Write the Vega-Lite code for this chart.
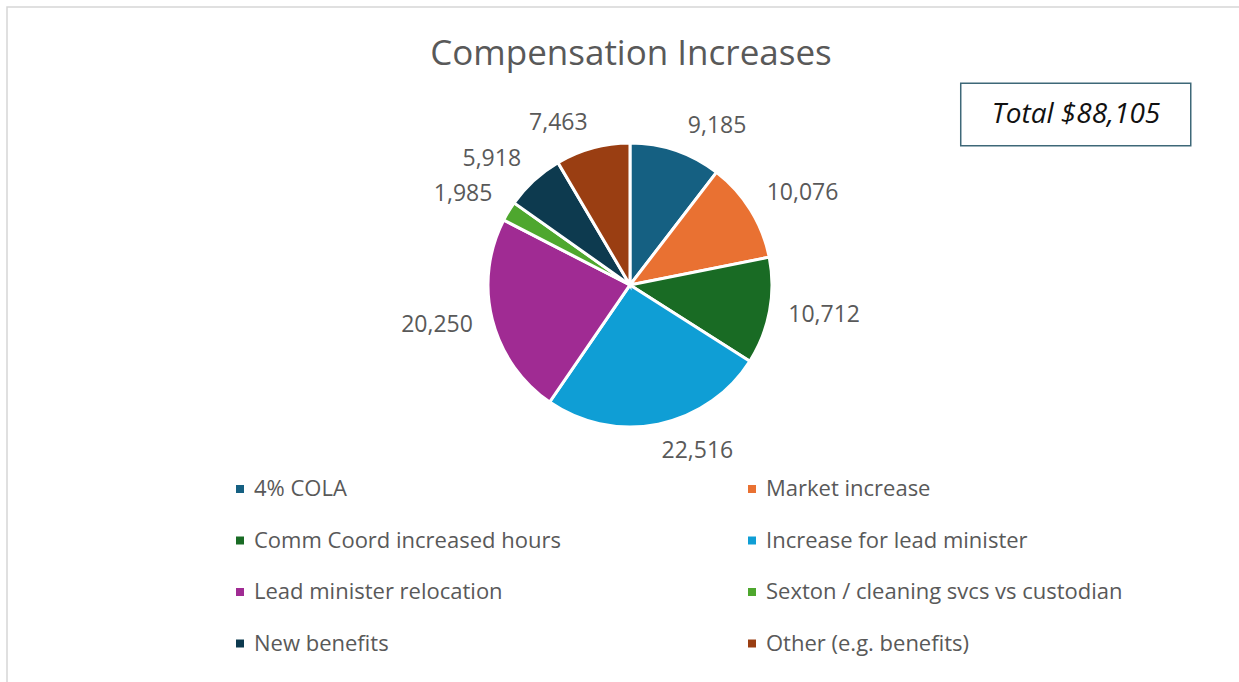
{
  "$schema": "https://vega.github.io/schema/vega-lite/v6.json",
  "autosize": {"type": "none"},
  "padding": {"left": 7, "top": 7, "right": -10, "bottom": -10},
  "width": 1242,
  "height": 685,
  "background": "white",
  "config": {
    "view": {"stroke": "#d6d6d6", "strokeWidth": 1.5},
    "font": "Open Sans"
  },
  "data": {
    "values": [
      {"category": "4% COLA", "value": 9185, "rank": 1},
      {"category": "Market increase", "value": 10076, "rank": 2},
      {"category": "Comm Coord increased hours", "value": 10712, "rank": 3},
      {"category": "Increase for lead minister", "value": 22516, "rank": 4},
      {"category": "Lead minister relocation", "value": 20250, "rank": 5},
      {"category": "Sexton / cleaning svcs vs custodian", "value": 1985, "rank": 6},
      {"category": "New benefits", "value": 5918, "rank": 7},
      {"category": "Other (e.g. benefits)", "value": 7463, "rank": 8}
    ]
  },
  "encoding": {
    "x": {"datum": 50.16, "type": "quantitative", "scale": {"domain": [0, 100], "nice": false, "zero": false}, "axis": null},
    "y": {"datum": 40.58, "type": "quantitative", "scale": {"domain": [0, 100], "nice": false, "zero": false, "reverse": true}, "axis": null}
  },
  "layer": [
    {
      "mark": {"type": "arc", "outerRadius": 142, "stroke": "white", "strokeWidth": 3},
      "encoding": {
        "theta": {"field": "value", "type": "quantitative", "stack": true},
        "order": {"field": "rank", "type": "quantitative"},
        "color": {
          "field": "category",
          "type": "nominal",
          "sort": null,
          "scale": {
            "domain": ["4% COLA", "Market increase", "Comm Coord increased hours", "Increase for lead minister", "Lead minister relocation", "Sexton / cleaning svcs vs custodian", "New benefits", "Other (e.g. benefits)"],
            "range": ["#156082", "#E97132", "#196B24", "#0F9ED5", "#A02B93", "#4EA72E", "#0D3A4F", "#9A3E12"]
          },
          "legend": {
            "orient": "none",
            "legendX": 222,
            "legendY": 471,
            "title": null,
            "direction": "horizontal",
            "columns": 2,
            "columnPadding": 180,
            "rowPadding": 29.5,
            "padding": 0,
            "symbolType": "square",
            "symbolSize": 64,
            "symbolStrokeWidth": 0,
            "symbolOpacity": 1,
            "labelFont": "Open Sans",
            "labelFontSize": 22,
            "labelColor": "#595959",
            "labelOffset": 3,
            "labelLimit": 500
          }
        }
      }
    },
    {
      "mark": {"type": "text", "radius": 161, "align": "left", "baseline": "alphabetic", "fontSize": 23, "color": "#595959", "dx": 6},
      "encoding": {
        "theta": {"field": "value", "type": "quantitative", "stack": true},
        "order": {"field": "rank", "type": "quantitative"},
        "text": {"condition": {"test": "datum.category === '4% COLA'", "field": "value", "type": "quantitative", "format": ","}, "value": ""}
      }
    },
    {
      "mark": {"type": "text", "radius": 161, "align": "left", "baseline": "alphabetic", "fontSize": 23, "color": "#595959"},
      "encoding": {
        "theta": {"field": "value", "type": "quantitative", "stack": true},
        "order": {"field": "rank", "type": "quantitative"},
        "text": {"condition": {"test": "datum.category === 'Market increase'", "field": "value", "type": "quantitative", "format": ","}, "value": ""}
      }
    },
    {
      "mark": {"type": "text", "radius": 161, "align": "left", "baseline": "middle", "fontSize": 23, "color": "#595959"},
      "encoding": {
        "theta": {"field": "value", "type": "quantitative", "stack": true},
        "order": {"field": "rank", "type": "quantitative"},
        "text": {"condition": {"test": "datum.category === 'Comm Coord increased hours'", "field": "value", "type": "quantitative", "format": ","}, "value": ""}
      }
    },
    {
      "mark": {"type": "text", "radius": 158, "align": "left", "baseline": "top", "fontSize": 23, "color": "#595959"},
      "encoding": {
        "theta": {"field": "value", "type": "quantitative", "stack": true},
        "order": {"field": "rank", "type": "quantitative"},
        "text": {"condition": {"test": "datum.category === 'Increase for lead minister'", "field": "value", "type": "quantitative", "format": ","}, "value": ""}
      }
    },
    {
      "mark": {"type": "text", "radius": 162, "align": "right", "baseline": "middle", "fontSize": 23, "color": "#595959"},
      "encoding": {
        "theta": {"field": "value", "type": "quantitative", "stack": true},
        "order": {"field": "rank", "type": "quantitative"},
        "text": {"condition": {"test": "datum.category === 'Lead minister relocation'", "field": "value", "type": "quantitative", "format": ","}, "value": ""}
      }
    },
    {
      "mark": {"type": "text", "radius": 161, "align": "right", "baseline": "alphabetic", "fontSize": 23, "color": "#595959"},
      "encoding": {
        "theta": {"field": "value", "type": "quantitative", "stack": true},
        "order": {"field": "rank", "type": "quantitative"},
        "text": {"condition": {"test": "datum.category === 'Sexton / cleaning svcs vs custodian' || datum.category === 'New benefits' || datum.category === 'Other (e.g. benefits)'", "field": "value", "type": "quantitative", "format": ","}, "value": ""}
      }
    },
    {
      "data": {"values": [{"label": "Compensation Increases"}]},
      "mark": {"type": "text", "align": "center", "baseline": "alphabetic", "fontSize": 35, "color": "#595959"},
      "encoding": {
        "x": {"datum": 50.24, "type": "quantitative"},
        "y": {"datum": 8.47, "type": "quantitative"},
        "text": {"field": "label"}
      }
    },
    {
      "data": {"values": [{"label": "Total $88,105"}]},
      "mark": {"type": "rect", "fill": "white", "stroke": "#3E6878", "strokeWidth": 1.5},
      "encoding": {
        "x": {"datum": 76.79, "type": "quantitative"},
        "x2": {"datum": 95.31},
        "y": {"datum": 11.14, "type": "quantitative"},
        "y2": {"datum": 20.25}
      }
    },
    {
      "data": {"values": [{"label": "Total $88,105"}]},
      "mark": {"type": "text", "align": "center", "baseline": "alphabetic", "fontSize": 28, "fontStyle": "italic", "color": "#111111"},
      "encoding": {
        "x": {"datum": 86.07, "type": "quantitative"},
        "y": {"datum": 16.98, "type": "quantitative"},
        "text": {"field": "label"}
      }
    }
  ]
}
